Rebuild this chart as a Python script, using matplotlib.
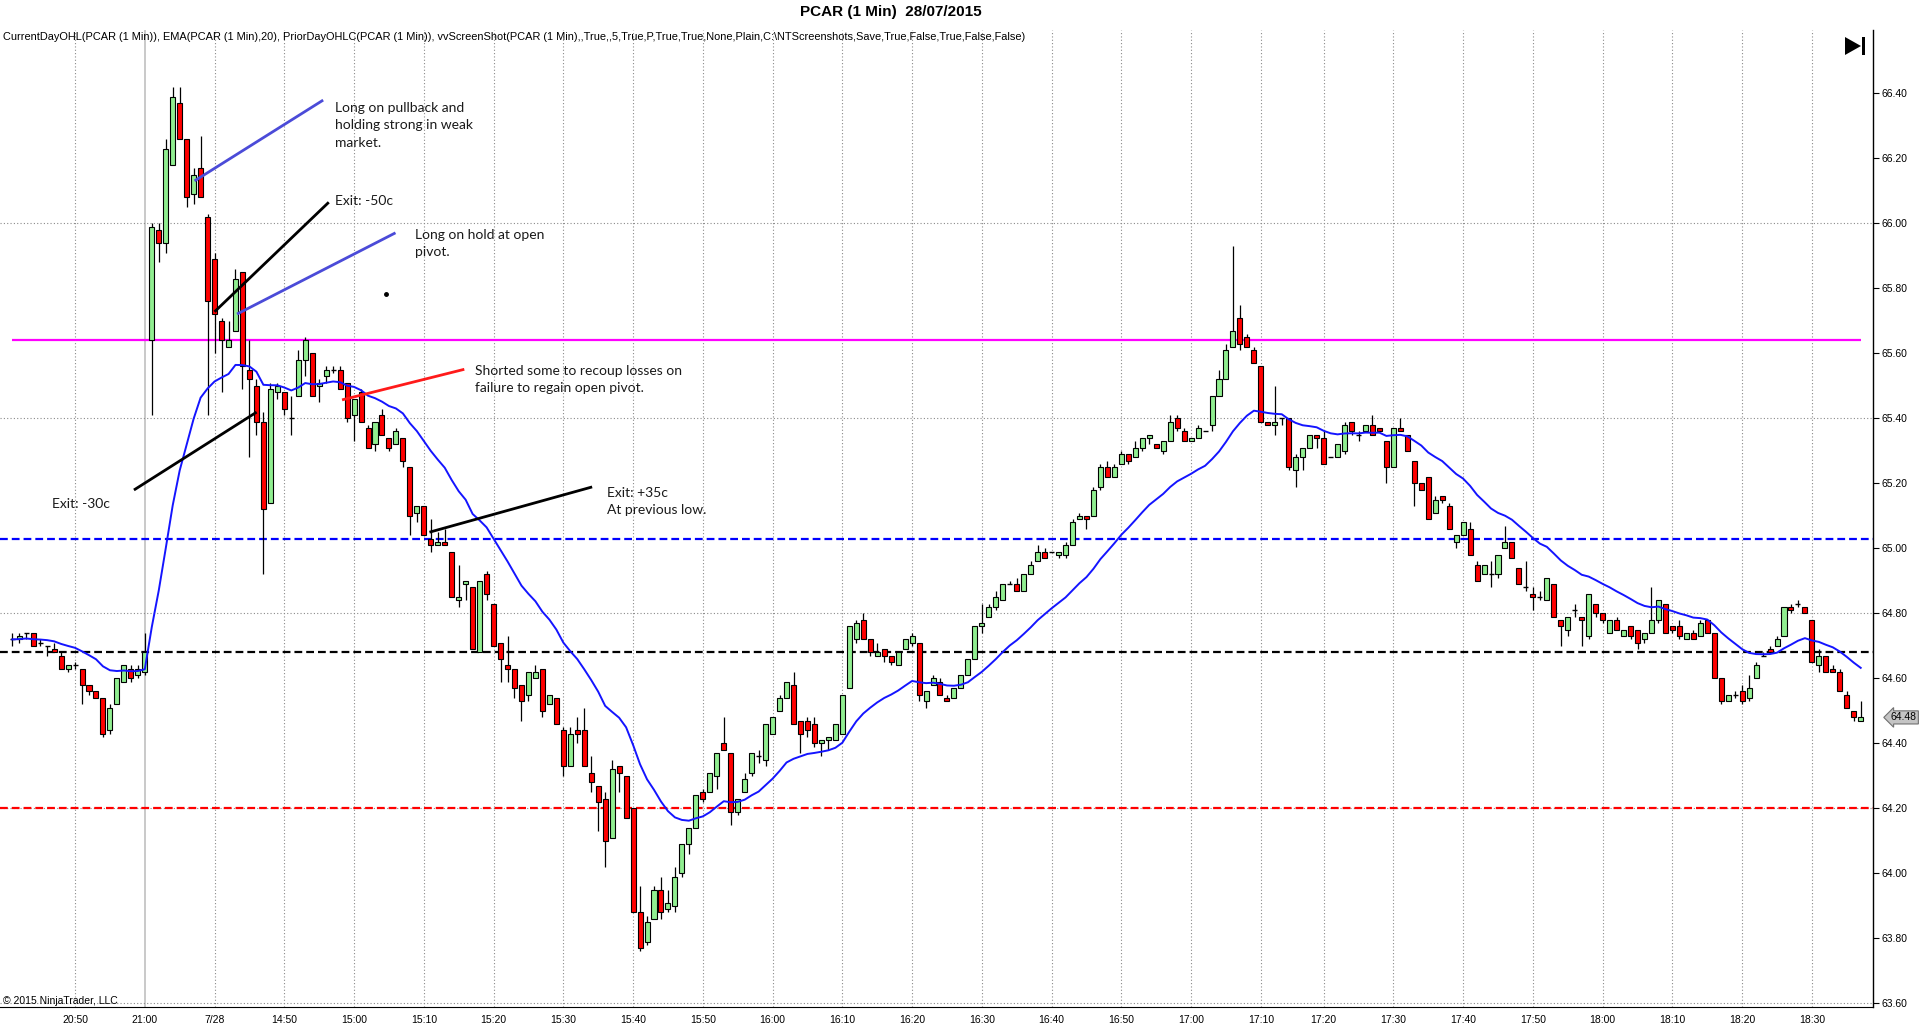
import numpy as np
import pandas as pd
import matplotlib.pyplot as plt
import matplotlib.transforms as mtransforms
from matplotlib.patches import Polygon, Rectangle

# --- DATOS: velas de 1 minuto PCAR (cierre 27/07 + sesión 28/07/2015) ---
# últimos 20 minutos de la sesión anterior (20:41 - 21:00)
prior_open = [64.72, 64.72, 64.74, 64.74, 64.71, 64.70, 64.69, 64.67, 64.63, 64.64,
              64.63, 64.58, 64.56, 64.54, 64.44, 64.52, 64.59, 64.63, 64.61, 64.62]
prior_high = [64.74, 64.74, 64.74, 64.74, 64.72, 64.70, 64.71, 64.68, 64.64, 64.65,
              64.63, 64.58, 64.56, 64.54, 64.52, 64.60, 64.64, 64.64, 64.64, 64.74]
prior_low = [64.70, 64.71, 64.72, 64.70, 64.70, 64.67, 64.68, 64.63, 64.62, 64.63,
             64.52, 64.55, 64.54, 64.42, 64.43, 64.52, 64.59, 64.59, 64.60, 64.61]
prior_close = [64.72, 64.73, 64.74, 64.70, 64.71, 64.70, 64.68, 64.63, 64.64, 64.64,
               64.58, 64.56, 64.54, 64.43, 64.51, 64.60, 64.64, 64.60, 64.63, 64.68]

# sesión del 28/07 (14:31 - 18:37), 10 velas por fila
day_open = [
    65.64, 65.98, 65.94, 66.18, 66.37, 66.26, 66.09, 66.17, 66.02, 65.89,
    65.70, 65.62, 65.67, 65.85, 65.55, 65.50, 65.39, 65.14, 65.48, 65.48,
    65.40, 65.47, 65.58, 65.60, 65.50, 65.53, 65.55, 65.55, 65.51, 65.41,
    65.48, 65.37, 65.32, 65.41, 65.34, 65.32, 65.34, 65.25, 65.11, 65.13,
    65.03, 65.01, 65.02, 64.99, 64.84, 64.89, 64.88, 64.68, 64.92, 64.83,
    64.71, 64.64, 64.63, 64.58, 64.55, 64.60, 64.63, 64.52, 64.54, 64.44,
    64.33, 64.44, 64.44, 64.31, 64.27, 64.23, 64.11, 64.33, 64.30, 64.20,
    63.88, 63.79, 63.86, 63.95, 63.89, 63.90, 64.00, 64.09, 64.14, 64.25,
    64.25, 64.30, 64.40, 64.37, 64.19, 64.25, 64.31, 64.36, 64.35, 64.43,
    64.50, 64.54, 64.58, 64.47, 64.47, 64.46, 64.40, 64.41, 64.41, 64.43,
    64.57, 64.72, 64.78, 64.72, 64.67, 64.69, 64.67, 64.64, 64.69, 64.71,
    64.71, 64.53, 64.58, 64.59, 64.54, 64.54, 64.57, 64.61, 64.66, 64.76,
    64.79, 64.82, 64.84, 64.89, 64.89, 64.87, 64.92, 64.96, 64.99, 64.99,
    64.98, 64.98, 65.01, 65.09, 65.10, 65.10, 65.19, 65.25, 65.22, 65.26,
    65.29, 65.28, 65.31, 65.34, 65.32, 65.30, 65.33, 65.40, 65.36, 65.33,
    65.34, 65.36, 65.38, 65.47, 65.52, 65.62, 65.71, 65.65, 65.61, 65.56,
    65.39, 65.38, 65.40, 65.40, 65.24, 65.28, 65.31, 65.35, 65.34, 65.28,
    65.28, 65.30, 65.39, 65.35, 65.36, 65.38, 65.37, 65.33, 65.25, 65.37,
    65.35, 65.27, 65.20, 65.22, 65.11, 65.16, 65.13, 65.02, 65.04, 65.06,
    64.95, 64.92, 64.92, 64.92, 65.00, 65.02, 64.94, 64.88, 64.86, 64.85,
    64.84, 64.89, 64.78, 64.75, 64.81, 64.79, 64.73, 64.83, 64.80, 64.74,
    64.78, 64.73, 64.76, 64.75, 64.72, 64.74, 64.78, 64.83, 64.76, 64.76,
    64.72, 64.74, 64.73, 64.78, 64.74, 64.60, 64.53, 64.55, 64.56, 64.54,
    64.60, 64.67, 64.69, 64.70, 64.73, 64.82, 64.83, 64.82, 64.78, 64.64,
    64.67, 64.63, 64.62, 64.55, 64.50, 64.47]
day_high = [
    66.00, 66.00, 66.26, 66.42, 66.42, 66.26, 66.17, 66.27, 66.03, 65.91,
    65.71, 65.70, 65.86, 65.85, 65.64, 65.52, 65.42, 65.51, 65.51, 65.48,
    65.47, 65.61, 65.65, 65.60, 65.52, 65.56, 65.56, 65.56, 65.51, 65.46,
    65.49, 65.38, 65.39, 65.43, 65.34, 65.37, 65.34, 65.25, 65.13, 65.13,
    65.09, 65.05, 65.06, 64.99, 64.95, 64.90, 64.88, 64.90, 64.93, 64.83,
    64.71, 64.73, 64.63, 64.58, 64.62, 64.64, 64.63, 64.55, 64.54, 64.45,
    64.45, 64.48, 64.51, 64.36, 64.27, 64.25, 64.35, 64.33, 64.30, 64.20,
    63.96, 63.87, 63.96, 63.99, 63.95, 64.02, 64.09, 64.14, 64.24, 64.26,
    64.31, 64.37, 64.48, 64.37, 64.23, 64.31, 64.37, 64.38, 64.46, 64.48,
    64.55, 64.59, 64.62, 64.47, 64.48, 64.48, 64.41, 64.42, 64.46, 64.55,
    64.76, 64.78, 64.80, 64.72, 64.71, 64.69, 64.67, 64.68, 64.72, 64.74,
    64.71, 64.56, 64.61, 64.60, 64.55, 64.57, 64.61, 64.66, 64.76, 64.83,
    64.83, 64.87, 64.89, 64.90, 64.91, 64.92, 64.96, 65.01, 65.00, 64.99,
    64.99, 65.02, 65.09, 65.11, 65.10, 65.19, 65.26, 65.27, 65.26, 65.30,
    65.29, 65.33, 65.34, 65.35, 65.32, 65.33, 65.41, 65.41, 65.37, 65.34,
    65.38, 65.36, 65.47, 65.55, 65.63, 65.93, 65.75, 65.66, 65.62, 65.56,
    65.39, 65.50, 65.40, 65.40, 65.29, 65.31, 65.35, 65.35, 65.36, 65.28,
    65.32, 65.39, 65.39, 65.36, 65.38, 65.41, 65.37, 65.33, 65.37, 65.40,
    65.35, 65.27, 65.20, 65.22, 65.16, 65.16, 65.14, 65.04, 65.08, 65.08,
    64.96, 64.95, 64.96, 64.98, 65.07, 65.02, 64.94, 64.96, 64.88, 64.87,
    64.91, 64.89, 64.78, 64.79, 64.83, 64.79, 64.86, 64.83, 64.80, 64.78,
    64.79, 64.75, 64.76, 64.75, 64.74, 64.88, 64.84, 64.83, 64.76, 64.78,
    64.74, 64.75, 64.78, 64.78, 64.74, 64.60, 64.55, 64.56, 64.58, 64.61,
    64.65, 64.68, 64.70, 64.73, 64.82, 64.83, 64.84, 64.82, 64.78, 64.69,
    64.67, 64.64, 64.63, 64.56, 64.50, 64.53]
day_low = [
    65.41, 65.88, 65.91, 66.18, 66.26, 66.05, 66.06, 66.08, 65.41, 65.60,
    65.48, 65.62, 65.67, 65.49, 65.28, 65.35, 64.92, 65.14, 65.46, 65.41,
    65.35, 65.47, 65.53, 65.47, 65.45, 65.51, 65.54, 65.49, 65.39, 65.33,
    65.39, 65.31, 65.30, 65.35, 65.30, 65.32, 65.25, 65.04, 65.08, 65.04,
    64.99, 65.01, 65.01, 64.85, 64.82, 64.84, 64.69, 64.68, 64.84, 64.70,
    64.59, 64.59, 64.54, 64.47, 64.53, 64.60, 64.48, 64.52, 64.46, 64.30,
    64.33, 64.40, 64.33, 64.25, 64.13, 64.02, 64.11, 64.25, 64.17, 63.88,
    63.76, 63.78, 63.86, 63.86, 63.88, 63.88, 63.99, 64.06, 64.14, 64.22,
    64.25, 64.26, 64.38, 64.15, 64.18, 64.25, 64.30, 64.34, 64.33, 64.43,
    64.50, 64.54, 64.46, 64.37, 64.42, 64.39, 64.36, 64.38, 64.41, 64.43,
    64.57, 64.71, 64.72, 64.67, 64.67, 64.65, 64.64, 64.64, 64.69, 64.70,
    64.53, 64.51, 64.58, 64.55, 64.53, 64.54, 64.57, 64.61, 64.66, 64.74,
    64.79, 64.81, 64.84, 64.89, 64.87, 64.87, 64.92, 64.96, 64.97, 64.99,
    64.97, 64.97, 65.01, 65.09, 65.06, 65.10, 65.18, 65.22, 65.22, 65.26,
    65.26, 65.28, 65.30, 65.32, 65.31, 65.29, 65.33, 65.36, 65.33, 65.33,
    65.34, 65.36, 65.36, 65.47, 65.52, 65.62, 65.61, 65.62, 65.57, 65.39,
    65.38, 65.35, 65.38, 65.24, 65.19, 65.24, 65.31, 65.31, 65.26, 65.28,
    65.28, 65.29, 65.35, 65.33, 65.36, 65.35, 65.36, 65.20, 65.25, 65.36,
    65.30, 65.13, 65.18, 65.09, 65.11, 65.14, 65.06, 65.00, 65.04, 64.98,
    64.90, 64.92, 64.88, 64.91, 65.00, 64.97, 64.89, 64.87, 64.81, 64.84,
    64.84, 64.79, 64.70, 64.73, 64.79, 64.70, 64.72, 64.79, 64.77, 64.74,
    64.75, 64.73, 64.72, 64.69, 64.71, 64.74, 64.77, 64.74, 64.74, 64.72,
    64.72, 64.72, 64.73, 64.74, 64.60, 64.52, 64.53, 64.54, 64.52, 64.53,
    64.60, 64.67, 64.68, 64.70, 64.73, 64.80, 64.82, 64.80, 64.65, 64.62,
    64.62, 64.62, 64.56, 64.51, 64.47, 64.47]
day_close = [
    65.99, 65.94, 66.23, 66.39, 66.26, 66.08, 66.15, 66.08, 65.76, 65.72,
    65.64, 65.64, 65.83, 65.56, 65.52, 65.39, 65.12, 65.49, 65.50, 65.43,
    65.40, 65.58, 65.64, 65.47, 65.51, 65.55, 65.55, 65.49, 65.40, 65.46,
    65.39, 65.31, 65.39, 65.35, 65.31, 65.36, 65.27, 65.10, 65.13, 65.04,
    65.01, 65.02, 65.01, 64.85, 64.85, 64.90, 64.69, 64.90, 64.86, 64.70,
    64.66, 64.63, 64.57, 64.53, 64.62, 64.62, 64.50, 64.55, 64.46, 64.33,
    64.43, 64.43, 64.33, 64.28, 64.22, 64.10, 64.32, 64.31, 64.17, 63.88,
    63.77, 63.85, 63.95, 63.88, 63.91, 63.99, 64.09, 64.14, 64.24, 64.23,
    64.31, 64.37, 64.38, 64.19, 64.23, 64.29, 64.37, 64.36, 64.46, 64.48,
    64.54, 64.59, 64.46, 64.43, 64.44, 64.40, 64.41, 64.42, 64.46, 64.55,
    64.76, 64.77, 64.72, 64.68, 64.68, 64.67, 64.65, 64.68, 64.72, 64.73,
    64.55, 64.56, 64.60, 64.55, 64.53, 64.57, 64.61, 64.66, 64.76, 64.77,
    64.82, 64.85, 64.89, 64.89, 64.87, 64.92, 64.95, 64.99, 64.97, 64.99,
    64.99, 65.01, 65.08, 65.10, 65.09, 65.18, 65.25, 65.22, 65.25, 65.29,
    65.27, 65.31, 65.34, 65.35, 65.31, 65.33, 65.39, 65.37, 65.33, 65.34,
    65.37, 65.36, 65.47, 65.52, 65.61, 65.67, 65.63, 65.62, 65.57, 65.39,
    65.38, 65.39, 65.40, 65.25, 65.28, 65.31, 65.35, 65.34, 65.26, 65.28,
    65.32, 65.38, 65.36, 65.35, 65.38, 65.35, 65.36, 65.25, 65.37, 65.36,
    65.30, 65.20, 65.18, 65.09, 65.15, 65.15, 65.06, 65.04, 65.08, 64.98,
    64.90, 64.95, 64.92, 64.98, 65.02, 64.97, 64.89, 64.88, 64.85, 64.85,
    64.91, 64.79, 64.76, 64.79, 64.81, 64.78, 64.86, 64.80, 64.78, 64.78,
    64.75, 64.75, 64.73, 64.71, 64.74, 64.78, 64.84, 64.74, 64.75, 64.73,
    64.74, 64.72, 64.77, 64.74, 64.60, 64.53, 64.55, 64.55, 64.53, 64.57,
    64.64, 64.67, 64.68, 64.72, 64.82, 64.81, 64.83, 64.80, 64.65, 64.67,
    64.62, 64.62, 64.56, 64.51, 64.48, 64.48]

# niveles horizontales
day_open_level = 65.64     # apertura del día (magenta)
prior_high_level = 65.03   # máximo día anterior (azul)
prior_close_level = 64.68  # cierre día anterior (negro)
prior_low_level = 64.20    # mínimo día anterior (rojo)

opens = np.array(prior_open + day_open)
highs = np.array(prior_high + day_high)
lows = np.array(prior_low + day_low)
closes = np.array(prior_close + day_close)

# horas de cada vela (falta un minuto sin operaciones entre 17:10 y 17:20)
prior_times = pd.date_range("2015-07-27 20:41", "2015-07-27 21:00", freq="min")
day_times = pd.date_range("2015-07-28 14:31", "2015-07-28 18:37", freq="min")
day_times = day_times.drop(pd.Timestamp("2015-07-28 17:15"))
times = prior_times.append(day_times)
assert len(times) == len(closes)

x = np.arange(len(closes))
ema = pd.Series(closes).ewm(span=20, adjust=False).mean()

# etiquetas de tiempo
tick_pos, tick_lab = [], []
first_day = True
for i, t in enumerate(times):
    if t.minute % 10 == 0:
        tick_pos.append(i)
        if t.day == 28 and first_day:
            tick_lab.append("7/28")
            first_day = False
        else:
            tick_lab.append(t.strftime("%H:%M"))
session_break = len(prior_times) - 1

# --- FIGURA ---
W, H = 1920, 1034
fig = plt.figure(figsize=(W / 100, H / 100), dpi=100)
fig.patch.set_facecolor("white")
ax = fig.add_axes([0, 1 - 1007 / H, 1873 / W, (1007 - 30) / H])
ax.set_xlim(-1.76, 266.76)
ax.set_ylim(63.589, 66.595)

# rejilla
for p, lab in zip(tick_pos, tick_lab):
    if p == session_break:
        ax.axvline(p, color="#c0c0c0", lw=1.2, zorder=0)
    else:
        ax.axvline(p, color="#8a8a8a", lw=0.8, ls=(0, (1, 2)), zorder=0)
for lvl in np.arange(63.6, 66.61, 0.6):
    ax.axhline(lvl, color="#8a8a8a", lw=0.8, ls=(0, (1, 2)), zorder=0)

# niveles
ax.axhline(prior_high_level, color="#0000ff", lw=1.6, ls=(0, (3.5, 1.8)), zorder=1)
ax.axhline(prior_close_level, color="black", lw=1.6, ls=(0, (3.5, 1.8)), zorder=1)
ax.axhline(prior_low_level, color="#ff0000", lw=1.6, ls=(0, (3.5, 1.8)), zorder=1)
ax.hlines(day_open_level, x[0], x[-1], color="#ff00ff", lw=1.6, zorder=1)

# velas
up = closes > opens
down = closes < opens
flat = closes == opens
ax.vlines(x, lows, highs, color="black", lw=0.9, zorder=2)
body_w = 0.72
ax.bar(x[up], closes[up] - opens[up], bottom=opens[up], width=body_w,
       color="#90ee90", edgecolor="black", linewidth=0.8, zorder=3)
ax.bar(x[down], opens[down] - closes[down], bottom=closes[down], width=body_w,
       color="#ff0000", edgecolor="black", linewidth=0.8, zorder=3)
ax.hlines(closes[flat], x[flat] - body_w / 2, x[flat] + body_w / 2,
          color="black", lw=1.0, zorder=3)

# EMA(20)
ax.plot(x, ema, color="#1414ff", lw=1.4, zorder=4)

# ejes
for s in ["top", "left"]:
    ax.spines[s].set_visible(False)
ax.spines["right"].set_color("black")
ax.spines["bottom"].set_color("black")
ax.spines["right"].set_linewidth(1.0)
ax.spines["bottom"].set_linewidth(0.8)
ax.yaxis.tick_right()
ax.set_yticks(np.round(np.arange(63.6, 66.41, 0.2), 2))
ax.set_yticklabels([f"{v:.2f}" for v in np.arange(63.6, 66.41, 0.2)],
                   family=["Liberation Sans", "DejaVu Sans"], fontsize=7.5)
ax.tick_params(axis="y", length=4, width=0.8, pad=2, colors="black")
ax.set_xticks(tick_pos)
ax.set_xticklabels(tick_lab, family=["Liberation Sans", "DejaVu Sans"], fontsize=7.5)
ax.tick_params(axis="x", length=0, pad=6)

# último precio
blend = mtransforms.blended_transform_factory(ax.transAxes, ax.transData)
ax.text(1.0095, closes[-1], f"{closes[-1]:.2f}", transform=blend, ha="left", va="center",
        fontsize=7.5, family=["Liberation Sans", "DejaVu Sans"], clip_on=False,
        bbox=dict(boxstyle="larrow,pad=0.15", fc="#c4c4c4", ec="#707070", lw=0.8))

# anotaciones del operador
note_font = dict(family=["Lato", "DejaVu Sans"], fontsize=10, color="#1a1a1a",
                 linespacing=1.55)
ax.plot([26.3, 44.4], [66.133, 66.377], color="#4b4bd8", lw=2.0, zorder=5)
ax.text(46.3, 66.375, "Long on pullback and\nholding strong in weak\nmarket.",
        va="top", ha="left", **note_font)
ax.plot([29.14, 45.23], [65.731, 66.062], color="black", lw=2.0, zorder=5)
ax.text(46.3, 66.07, "Exit: -50c", va="center", ha="left", **note_font)
ax.plot([32.4, 54.76], [65.723, 65.969], color="#4b4bd8", lw=2.0, zorder=5)
ax.text(57.76, 65.984, "Long on hold at open\npivot.", va="top", ha="left",
        **note_font)
ax.plot([53.57], [65.782], marker="o", ms=2.5, color="black", zorder=5)
ax.plot([47.47, 64.61], [65.458, 65.55], color="#ff1a1a", lw=2.0, zorder=5)
ax.text(66.28, 65.565, "Shorted some to recoup losses on\nfailure to regain open pivot.",
        va="top", ha="left", **note_font)
ax.plot([17.61, 34.86], [65.182, 65.417], color="black", lw=2.0, zorder=5)
ax.text(5.66, 65.138, "Exit: -30c", va="center", ha="left", **note_font)
ax.plot([60.0, 82.94], [65.051, 65.188], color="black", lw=2.0, zorder=5)
ax.text(85.33, 65.19, "Exit: +35c\nAt previous low.", va="top", ha="left",
        **note_font)

# textos de cabecera
fig.text(891 / W, 1 - 12 / H, "PCAR (1 Min)  28/07/2015", ha="center", va="center",
         fontsize=11, fontweight="bold",
         family=["Liberation Sans Narrow", "Liberation Sans", "DejaVu Sans"])
fig.text(3 / W, 1 - 37 / H,
         "CurrentDayOHL(PCAR (1 Min)), EMA(PCAR (1 Min),20), PriorDayOHLC(PCAR (1 Min)), "
         "vvScreenShot(PCAR (1 Min),,True,,5,True,P,True,True,None,Plain,C:\\NTScreenshots,"
         "Save,True,False,True,False,False)",
         ha="left", va="center", fontsize=7.9,
         family=["Liberation Sans Narrow", "Liberation Sans", "DejaVu Sans"])
fig.text(3 / W, 1 - 1001 / H, "© 2015 NinjaTrader, LLC", ha="left", va="center",
         fontsize=7.5, family=["Liberation Sans", "DejaVu Sans"])

# icono de "ir al final"
fig.patches.append(Polygon([[1845 / W, 1 - 37 / H], [1845 / W, 1 - 55 / H],
                            [1861 / W, 1 - 46 / H]], closed=True, fc="black",
                           transform=fig.transFigure, figure=fig))
fig.patches.append(Rectangle((1862 / W, 1 - 55 / H), 3 / W, 18 / H, fc="black",
                             transform=fig.transFigure, figure=fig))

fig.savefig("out.png", dpi=100, facecolor="white")
